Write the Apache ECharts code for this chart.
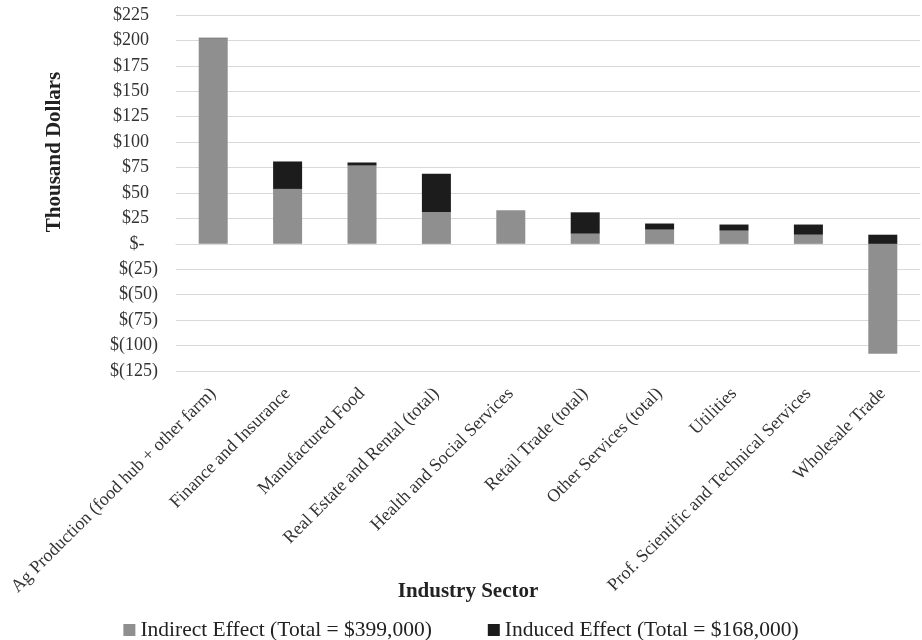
<!DOCTYPE html>
<html>
<head>
<meta charset="utf-8">
<script src="https://cdn.jsdelivr.net/npm/echarts@6/dist/echarts.min.js"></script>
<style>html,body{margin:0;padding:0;background:#fff;}#c{width:922px;height:640px;}</style>
</head>
<body>
<div id="c"></div>
<script>
const categories = [
  "Ag Production (food hub + other farm)",
  "Finance and Insurance",
  "Manufactured Food",
  "Real Estate and Rental (total)",
  "Health and Social Services",
  "Retail Trade (total)",
  "Other Services (total)",
  "Utilities",
  "Prof. Scientific and Technical Services",
  "Wholesale Trade"
];
const indirectEffect = [202, 54, 77, 31, 33, 10, 14, 13, 9, -108];
const inducedEffect = [0.6, 27, 3, 38, 0, 21, 6, 6, 10, 9];
const seriesNames = ["Indirect Effect (Total = $399,000)", "Induced Effect (Total = $168,000)"];
const yAxisTitle = "Thousand Dollars";
const xAxisTitle = "Industry Sector";

const FONT = "'Liberation Serif', 'DejaVu Serif', serif";
const chart = echarts.init(document.getElementById('c'));
function fmt(v) {
  if (v === 0) return '$-   ';
  if (v < 0) return '$(' + Math.abs(v) + ')';
  return '$' + v + '  ';
}
chart.setOption({
  animation: false,
  backgroundColor: '#ffffff',
  grid: { left: 176, right: 2, top: 15, bottom: 269 },
  legend: {
    left: 'center', top: 614,
    itemWidth: 12, itemHeight: 12, itemGap: 56,
    icon: 'rect',
    textStyle: { fontFamily: FONT, fontSize: 21.5, color: '#222' },
    data: seriesNames
  },
  xAxis: {
    type: 'category',
    data: categories,
    axisLine: { lineStyle: { color: '#d9d9d9' } },
    axisTick: { show: false },
    axisLabel: { rotate: 45, margin: 20, interval: 0, fontFamily: FONT, fontSize: 18, color: '#333' }
  },
  yAxis: {
    type: 'value',
    min: -125, max: 225, interval: 25,
    axisLine: { show: false },
    axisTick: { show: false },
    splitLine: { lineStyle: { color: '#d9d9d9', width: 1 } },
    axisLabel: { formatter: fmt, margin: 18, fontFamily: FONT, fontSize: 18, color: '#333' }
  },
  series: [
    { name: seriesNames[0], type: 'bar', stack: 'total', data: indirectEffect, barWidth: 29, itemStyle: { color: '#8f8f8f' } },
    { name: seriesNames[1], type: 'bar', stack: 'total', data: inducedEffect, barWidth: 29, itemStyle: { color: '#1c1c1c' } }
  ],
  graphic: [
    { type: 'text', x: 468, y: 592, style: { text: xAxisTitle, fontFamily: FONT, fontWeight: 'bold', fontSize: 21, fill: '#222', align: 'center', verticalAlign: 'middle' } },
    { type: 'text', x: 55, y: 152, rotation: Math.PI / 2, style: { text: yAxisTitle, fontFamily: FONT, fontWeight: 'bold', fontSize: 21, fill: '#222', align: 'center', verticalAlign: 'middle' } }
  ]
});
</script>
</body>
</html>
